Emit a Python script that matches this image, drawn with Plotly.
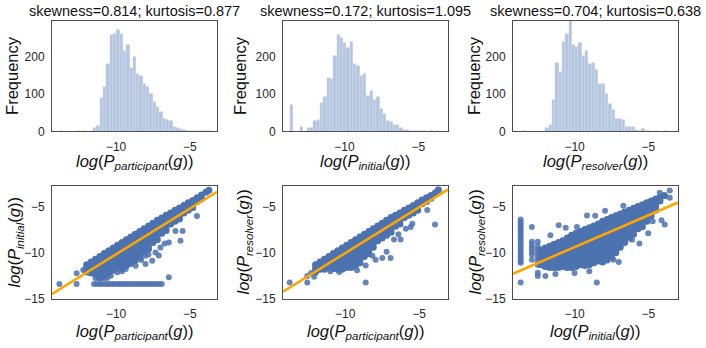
import numpy as np
import plotly.graph_objects as go

# ---------------- histogram data (bin start, bin width, counts) ----------------
hist_participant_start = -13.8
hist_participant_width = 0.2245
hist_participant_counts = [1, 0, 0, 0, 0, 2, 0, 1, 0, 2, 9, 15, 90, 121, 183, 260, 262, 273, 262, 216,
                           233, 172, 200, 154, 150, 128, 121, 101, 79, 66, 53, 35, 31, 29, 13, 9, 6, 4,
                           3, 2, 2, 1, 2, 1, 1, 1]

hist_initial_start = -13.67
hist_initial_width = 0.224
hist_initial_counts = [73, 0, 0, 13, 0, 11, 11, 29, 31, 77, 92, 144, 141, 203, 260, 252, 238, 225, 240,
                       183, 176, 150, 155, 97, 108, 85, 92, 62, 48, 29, 26, 18, 18, 9, 5, 4, 3, 2, 1,
                       1, 1, 0, 1, 0, 1]

hist_resolver_start = -13.56
hist_resolver_width = 0.225
hist_resolver_counts = [2, 0, 0, 0, 0, 0, 0, 9, 19, 85, 185, 161, 242, 262, 300, 233, 227, 238, 203, 216,
                        181, 185, 165, 128, 129, 101, 75, 57, 35, 35, 31, 13, 13, 13, 4, 2, 6, 1, 1,
                        0, 1, 0, 0, 1]

hist_titles = ["skewness=0.814; kurtosis=0.877",
               "skewness=0.172; kurtosis=1.095",
               "skewness=0.704; kurtosis=0.638"]

# ---------------- scatter 1: participant (x) vs initial (y) ----------------
s1_columns = [
    (-12.0, [-11.3, -11.7, -12.1]),
    (-11.7, [-11.0, -11.4, -11.8, -12.2]),
    (-11.4, [-10.7, -11.1, -11.5, -11.9, -12.3]),
    (-11.1, [-10.4, -10.8, -11.2, -11.6, -12.0, -12.4, -12.7]),
    (-10.8, [-10.1, -10.5, -10.9, -11.3, -11.7, -12.1, -12.5]),
    (-10.5, [-9.8, -10.2, -10.6, -11.0, -11.4, -11.8, -12.2]),
    (-10.2, [-9.5, -9.9, -10.3, -10.7, -11.1, -11.5, -11.9]),
    (-9.9, [-9.2, -9.6, -10.0, -10.4, -10.8, -11.2, -11.6]),
    (-9.6, [-8.9, -9.3, -9.7, -10.1, -10.5, -10.9, -11.3, -11.7]),
    (-9.3, [-8.6, -9.0, -9.4, -9.8, -10.2, -10.6, -11.0, -11.4]),
    (-9.0, [-8.3, -8.7, -9.1, -9.5, -9.9, -10.3, -10.7, -11.1]),
    (-8.7, [-8.0, -8.4, -8.8, -9.2, -9.6, -10.0, -10.4, -10.8]),
    (-8.4, [-7.7, -8.1, -8.5, -8.9, -9.3, -9.7, -10.1, -10.5]),
    (-8.1, [-7.4, -7.8, -8.2, -8.6, -9.0, -9.5, -9.9]),
    (-7.8, [-7.1, -7.5, -7.9, -8.3, -8.7, -9.2, -9.6]),
    (-7.5, [-6.8, -7.2, -7.6, -8.0, -8.4, -8.9]),
    (-7.2, [-6.5, -6.9, -7.3, -7.7, -8.1, -8.6]),
    (-6.9, [-6.25, -6.65, -7.05, -7.45, -7.9]),
    (-6.6, [-5.95, -6.35, -6.75, -7.15, -7.6]),
    (-6.3, [-5.7, -6.1, -6.5, -6.9]),
    (-6.0, [-5.4, -5.8, -6.2, -6.6]),
    (-5.7, [-5.15, -5.55, -5.95, -6.35]),
    (-5.4, [-4.9, -5.3, -5.7]),
    (-5.1, [-4.6, -5.0, -5.4]),
    (-4.8, [-4.35, -4.75, -5.1]),
    (-4.5, [-4.05, -4.45]),
    (-4.2, [-3.75, -4.15]),
    (-3.9, [-3.45]),
    (-3.7, [-3.25]),
]
s1_extra_x = [-13.85, -12.68, -12.68, -12.23, -11.4, -11.2, -11.0, -10.8, -10.6, -10.36, -9.91,
              -9.35, -9.01, -8.67, -8.0, -7.55, -8.0, -7.32, -6.99, -6.42, -5.63, -5.97, -5.48,
              -4.51, -6.42, -8.3, -7.8, -9.6, -10.9, -6.7, -7.1,
              -11.5, -11.3, -11.1, -10.9, -10.7, -10.5, -10.3, -10.1, -9.9, -9.7, -9.5, -9.3,
              -9.1, -8.9, -8.7, -8.5, -8.3, -8.1, -7.9, -7.7, -7.5, -7.3, -7.1, -6.9]
s1_extra_y = [-13.4, -13.4, -12.24, -11.88, -12.74, -12.74, -12.74, -12.74, -12.74, -12.49, -12.13,
              -11.77, -11.23, -11.41, -11.23, -10.87, -10.33, -9.98, -9.44, -8.9, -8.72, -7.64, -7.64,
              -6.03, -12.67, -10.8, -10.2, -12.0, -12.3, -9.0, -10.3,
              -13.4, -13.4, -13.4, -13.4, -13.4, -13.4, -13.4, -13.4, -13.4, -13.4, -13.4, -13.4,
              -13.4, -13.4, -13.4, -13.4, -13.4, -13.4, -13.4, -13.4, -13.4, -13.4, -13.4, -13.4]
s1_regression = (0.987, -0.30)   # slope, intercept

# ---------------- scatter 2: participant (x) vs resolver (y) ----------------
s2_columns = [
    (-12.0, [-11.3, -11.7, -12.1]),
    (-11.7, [-11.0, -11.4, -11.8]),
    (-11.4, [-10.7, -11.1, -11.5, -11.8]),
    (-11.1, [-10.4, -10.8, -11.2, -11.6]),
    (-10.8, [-10.1, -10.5, -10.9, -11.3, -11.7]),
    (-10.5, [-9.8, -10.2, -10.6, -11.0, -11.4, -11.8]),
    (-10.2, [-9.5, -9.9, -10.3, -10.7, -11.1, -11.5, -11.8]),
    (-9.9, [-9.2, -9.6, -10.0, -10.4, -10.8, -11.2, -11.6]),
    (-9.6, [-8.9, -9.3, -9.7, -10.1, -10.5, -10.9, -11.3, -11.6]),
    (-9.3, [-8.6, -9.0, -9.4, -9.8, -10.2, -10.6, -11.0, -11.4]),
    (-9.0, [-8.3, -8.7, -9.1, -9.5, -9.9, -10.3, -10.7, -11.1]),
    (-8.7, [-8.0, -8.4, -8.8, -9.2, -9.6, -10.0, -10.4]),
    (-8.4, [-7.7, -8.1, -8.5, -8.9, -9.3, -9.7, -10.1]),
    (-8.1, [-7.4, -7.8, -8.2, -8.6, -9.0, -9.4]),
    (-7.8, [-7.1, -7.5, -7.9, -8.3, -8.7]),
    (-7.5, [-6.8, -7.2, -7.6, -8.0, -8.4]),
    (-7.2, [-6.5, -6.9, -7.3, -7.7, -8.1]),
    (-6.9, [-6.2, -6.6, -7.0, -7.4, -7.8]),
    (-6.6, [-5.95, -6.35, -6.75, -7.15]),
    (-6.3, [-5.7, -6.1, -6.5, -6.9]),
    (-6.0, [-5.4, -5.8, -6.2]),
    (-5.7, [-5.15, -5.55, -5.95]),
    (-5.4, [-4.9, -5.3, -5.7]),
    (-5.1, [-4.6, -5.0, -5.4]),
    (-4.8, [-4.3, -4.7]),
    (-4.5, [-4.05, -4.45]),
    (-4.2, [-3.8, -4.1]),
    (-3.9, [-3.5]),
    (-3.7, [-3.2]),
]
s2_extra_x = [-13.75, -12.56, -12.56, -12.1, -12.3, -8.61, -3.93, -4.45, -5.46, -5.57, -6.7, -6.25,
              -6.93, -7.49, -7.94, -8.16, -8.61, -9.2, -10.4, -11.0, -7.2, -6.4, -5.9]
s2_extra_y = [-13.23, -13.23, -12.52, -12.6, -12.2, -13.23, -6.94, -5.38, -6.87, -7.22, -8.56, -8.56,
              -10.58, -10.58, -10.76, -10.33, -11.39, -11.9, -12.1, -12.0, -9.9, -8.0, -7.4]
s2_regression = (0.993, -0.12)

# ---------------- scatter 3: initial (x) vs resolver (y) ----------------
s3_columns = [
    (-12.3, [-9.7, -10.1, -10.5, -10.9, -11.3]),
    (-12.0, [-9.5, -9.9, -10.3, -10.7, -11.1, -11.5]),
    (-11.7, [-9.3, -9.7, -10.1, -10.5, -10.9, -11.3, -11.6]),
    (-11.4, [-9.1, -9.5, -9.9, -10.3, -10.7, -11.1, -11.6]),
    (-11.1, [-8.9, -9.3, -9.7, -10.1, -10.5, -10.9, -11.3, -11.6]),
    (-10.8, [-8.7, -9.1, -9.5, -9.9, -10.3, -10.7, -11.1, -11.5]),
    (-10.5, [-8.4, -8.8, -9.2, -9.6, -10.0, -10.4, -10.8, -11.2, -11.6]),
    (-10.2, [-8.1, -8.5, -8.9, -9.3, -9.7, -10.1, -10.5, -10.9, -11.3, -11.6]),
    (-9.9, [-7.9, -8.3, -8.7, -9.1, -9.5, -9.9, -10.3, -10.7, -11.1, -11.5]),
    (-9.6, [-7.7, -8.1, -8.5, -8.9, -9.3, -9.7, -10.1, -10.5, -10.9, -11.3]),
    (-9.3, [-7.5, -7.9, -8.3, -8.7, -9.1, -9.5, -9.9, -10.3, -10.7, -11.1, -11.4]),
    (-9.0, [-7.3, -7.7, -8.1, -8.5, -8.9, -9.3, -9.7, -10.1, -10.5, -10.9, -11.3]),
    (-8.7, [-7.1, -7.5, -7.9, -8.3, -8.7, -9.1, -9.5, -9.9, -10.3, -10.7, -11.1]),
    (-8.4, [-6.9, -7.3, -7.7, -8.1, -8.5, -8.9, -9.3, -9.7, -10.1, -10.5, -10.9]),
    (-8.1, [-6.6, -7.0, -7.4, -7.8, -8.2, -8.6, -9.0, -9.4, -9.8, -10.2, -10.6, -11.0]),
    (-7.8, [-6.4, -6.8, -7.2, -7.6, -8.0, -8.4, -8.8, -9.2, -9.6, -10.0, -10.4, -10.8]),
    (-7.5, [-6.2, -6.6, -7.0, -7.4, -7.8, -8.2, -8.6, -9.0, -9.4, -9.8, -10.2, -10.5]),
    (-7.2, [-6.0, -6.4, -6.8, -7.2, -7.6, -8.0, -8.4, -8.8, -9.2, -9.6, -10.0]),
    (-6.9, [-5.8, -6.2, -6.6, -7.0, -7.4, -7.8, -8.2, -8.6, -9.0, -9.4]),
    (-6.6, [-5.6, -6.0, -6.4, -6.8, -7.2, -7.6, -8.0, -8.4, -8.9]),
    (-6.3, [-5.4, -5.8, -6.2, -6.6, -7.0, -7.4, -7.8, -8.2]),
    (-6.0, [-5.2, -5.6, -6.0, -6.4, -6.8, -7.2, -7.6, -8.0]),
    (-5.7, [-5.0, -5.4, -5.8, -6.2, -6.6, -7.0, -7.4]),
    (-5.4, [-4.8, -5.2, -5.6, -6.0, -6.4, -6.8, -7.2]),
    (-5.1, [-4.6, -5.0, -5.4, -5.8, -6.2, -6.6]),
    (-4.8, [-4.4, -4.8, -5.2, -5.6, -6.0]),
    (-4.5, [-4.2, -4.6, -5.0, -5.4]),
    (-4.2, [-4.0, -4.4]),
    (-3.9, [-3.8]),
]
s3_extra_x = [-13.66, -13.66, -13.66, -13.66, -13.66, -13.66, -13.66, -13.66, -13.66, -13.66, -13.66,
              -13.66, -13.66, -13.66, -13.66, -13.66, -13.66, -13.66,
              -12.9, -12.9, -12.9, -12.9, -12.9, -12.9, -12.9,
              -12.5, -12.5, -12.5, -12.5, -12.5, -12.5, -12.5, -12.5, -12.5,
              -11.98, -8.49, -11.08, -10.6, -11.64, -9.84, -7.93, -6.69, -9.16, -6.69, -8.6,
              -3.88, -4.1, -3.88, -3.54, -4.22, -3.54, -7.36, -6.24, -5.0, -10.0, -11.3, -9.0,
              -7.0, -5.6, -6.1, -4.7]
s3_extra_y = [-6.4, -6.7, -7.0, -7.3, -7.6, -7.9, -8.2, -8.5, -8.8, -9.1, -9.4,
              -9.7, -10.0, -10.3, -10.6, -10.9, -11.1, -13.23,
              -7.22, -8.81, -9.17, -9.52, -9.87, -10.23, -10.76,
              -8.81, -9.3, -9.7, -10.1, -10.5, -10.9, -11.3, -12.17, -12.52,
              -12.52, -13.23, -7.04, -7.3, -8.1, -7.22, -5.45, -5.81, -5.98, -4.92, -6.0,
              -6.94, -6.5, -3.86, -4.04, -3.51, -3.26, -10.76, -8.46, -7.9, -12.2, -12.3, -12.0,
              -11.0, -9.0, -8.6, -6.6]
s3_regression = (0.688, -2.52)

# ---------------- style / layout constants ----------------
FONT = "Liberation Sans, Arial, sans-serif"
BAR_COLOR = "rgb(181,198,224)"
PT_COLOR = "#4C72B0"
LINE_COLOR = "rgb(255,165,0)"
FRAME = "#4d4d4d"

W, H = 706, 348
cols_px = [(52, 217), (283, 448), (513, 678)]
top_px = (21, 134)
bot_px = (190, 305)

def xdom(c):
    return [c[0] / W, c[1] / W]

def ydom(r):
    return [1 - r[1] / H, 1 - r[0] / H]

hist_xranges = [[-14.35, -3.15], [-14.15, -3.0], [-14.18, -2.98]]
scat_xranges = [[-14.35, -3.15], [-14.2, -3.05], [-14.18, -2.98]]
scat_yrange = [-15, -2.8]
hist_yrange = [0, 297]

fig = go.Figure()

hists = [(hist_participant_start, hist_participant_width, hist_participant_counts),
         (hist_initial_start, hist_initial_width, hist_initial_counts),
         (hist_resolver_start, hist_resolver_width, hist_resolver_counts)]
for i, (start, w, counts) in enumerate(hists):
    centers = start + w * (np.arange(len(counts)) + 0.5)
    ax = "" if i == 0 else str(i + 1)
    fig.add_trace(go.Bar(x=centers, y=counts, width=w,
                         marker=dict(color=BAR_COLOR, line=dict(color="rgba(255,255,255,0.45)", width=0.3)),
                         xaxis="x" + ax, yaxis="y" + ax, showlegend=False, hoverinfo="skip"))

scatters = [(s1_columns, s1_extra_x, s1_extra_y, s1_regression),
            (s2_columns, s2_extra_x, s2_extra_y, s2_regression),
            (s3_columns, s3_extra_x, s3_extra_y, s3_regression)]
for i, (columns, ex, ey, reg) in enumerate(scatters):
    ax = str(i + 4)
    core_x = [c[0] for c in columns for _ in c[1]]
    core_y = [v for c in columns for v in c[1]]
    # dense core (many overlapping points in the original -> effectively opaque)
    fig.add_trace(go.Scatter(x=core_x, y=core_y, mode="markers",
                             marker=dict(size=7, color=PT_COLOR, opacity=1.0, line=dict(width=0)),
                             xaxis="x" + ax, yaxis="y" + ax, showlegend=False, hoverinfo="skip"))
    # sparser points
    fig.add_trace(go.Scatter(x=ex, y=ey, mode="markers",
                             marker=dict(size=6, color=PT_COLOR, opacity=0.85, line=dict(width=0)),
                             xaxis="x" + ax, yaxis="y" + ax, showlegend=False, hoverinfo="skip"))
    lx = np.array(scat_xranges[i])
    fig.add_trace(go.Scatter(x=lx, y=reg[0] * lx + reg[1], mode="lines",
                             line=dict(color=LINE_COLOR, width=2.6),
                             xaxis="x" + ax, yaxis="y" + ax, showlegend=False, hoverinfo="skip"))

axis_common = dict(showline=True, mirror=True, linecolor=FRAME, linewidth=1, ticks="",
                   showgrid=False, zeroline=False, ticklabelstandoff=4,
                   tickfont=dict(family=FONT, size=12, color="#262626"))

layout = dict(width=W, height=H, margin=dict(l=0, r=0, t=0, b=0), autosize=False,
              paper_bgcolor="white", plot_bgcolor="white", bargap=0, showlegend=False,
              font=dict(family=FONT, size=12, color="#1a1a1a"))
for i in range(3):
    ax = "" if i == 0 else str(i + 1)
    xa = "x" + ax
    ya = "y" + ax
    layout["xaxis" + ax] = dict(axis_common, domain=xdom(cols_px[i]), range=hist_xranges[i],
                                anchor=ya, tickvals=[-10, -5])
    layout["yaxis" + ax] = dict(axis_common, domain=ydom(top_px), range=hist_yrange,
                                anchor=xa, tickvals=[0, 100, 200])
    ax2 = str(i + 4)
    layout["xaxis" + ax2] = dict(axis_common, domain=xdom(cols_px[i]), range=scat_xranges[i],
                                 anchor="y" + ax2, tickvals=[-10, -5])
    layout["yaxis" + ax2] = dict(axis_common, domain=ydom(bot_px), range=scat_yrange,
                                 anchor="x" + ax2, tickvals=[-15, -10, -5])

def P(sub):
    return "<i>log</i>(<i>P</i><sub><i>%s</i></sub>(<i>g</i>))" % sub

annotations = []
LBL = 16.5
for i, c in enumerate(cols_px):
    cx = (c[0] + c[1]) / 2 / W
    annotations.append(dict(text=hist_titles[i], x=cx, y=1 - 11.5 / H, xref="paper", yref="paper",
                            showarrow=False, xanchor="center", yanchor="middle",
                            font=dict(family=FONT, size=14.5, color="#111")))
hist_xlabels = [P("participant"), P("initial"), P("resolver")]
scat_xlabels = [P("participant"), P("participant"), P("initial")]
scat_ylabels = [P("initial"), P("resolver"), P("resolver")]
freq_x = [12, 240, 474]
sy_x = [15, 244, 476]
for i, c in enumerate(cols_px):
    cx = (c[0] + c[1]) / 2 / W
    annotations.append(dict(text=hist_xlabels[i], x=cx, y=1 - 165 / H, xref="paper", yref="paper",
                            showarrow=False, xanchor="center", yanchor="middle",
                            font=dict(family=FONT, size=LBL, color="#111")))
    annotations.append(dict(text=scat_xlabels[i], x=cx, y=1 - 339 / H, xref="paper", yref="paper",
                            showarrow=False, xanchor="center", yanchor="middle",
                            font=dict(family=FONT, size=LBL, color="#111")))
    annotations.append(dict(text="Frequency", x=freq_x[i] / W, y=1 - 77.5 / H, xref="paper", yref="paper",
                            showarrow=False, xanchor="center", yanchor="middle", textangle=-90,
                            font=dict(family=FONT, size=LBL, color="#111")))
    annotations.append(dict(text=scat_ylabels[i], x=sy_x[i] / W, y=1 - 247.5 / H, xref="paper", yref="paper",
                            showarrow=False, xanchor="center", yanchor="middle", textangle=-90,
                            font=dict(family=FONT, size=LBL, color="#111")))
layout["annotations"] = annotations

fig.update_layout(**layout)
fig.write_html("out.html", config={"displayModeBar": False},
               post_script="document.body.style.margin='0';document.body.style.overflow='hidden';")
